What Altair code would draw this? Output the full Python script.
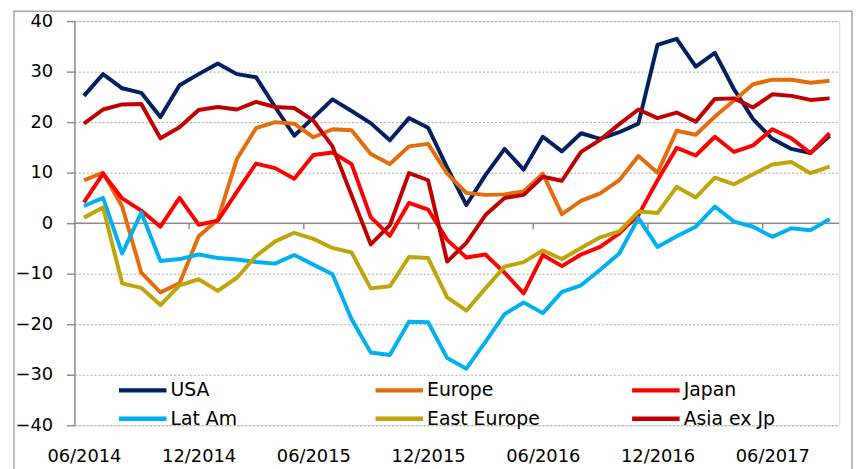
import altair as alt
import pandas as pd

series_names = ["USA", "Europe", "Japan", "Lat Am", "East Europe", "Asia ex Jp"]
series_colors = ["#002060", "#E46C0A", "#FF0000", "#00B0F0", "#BFA40A", "#C00000"]
# legend is laid out column by column: USA/Lat Am, Europe/East Europe, Japan/Asia ex Jp
legend_order = ["USA", "Lat Am", "Europe", "East Europe", "Japan", "Asia ex Jp"]

tick_labels = ["06/2014", "12/2014", "06/2015", "12/2015", "06/2016", "12/2016", "06/2017"]

usa = [25.2, 29.5, 26.7, 25.8, 21.0, 27.3, 29.5, 31.6, 29.5, 28.9,
       23.0, 17.3, 20.9, 24.5, 22.2, 19.8, 16.4, 20.8, 18.9, 11.0,
       3.6, 9.5, 14.7, 10.6, 17.1, 14.2, 17.8, 16.7, 18.0, 19.7,
       35.3, 36.5, 31.0, 33.7, 26.5, 20.6, 16.7, 14.7, 13.9, 17.3]
europe = [8.5, 10.0, 3.3, -9.8, -13.7, -11.9, -2.6, 0.7, 12.7, 18.8,
          20.0, 19.7, 17.0, 18.6, 18.4, 13.7, 11.7, 15.2, 15.7, 9.8,
          6.0, 5.6, 5.7, 6.3, 9.8, 1.8, 4.4, 5.9, 8.5, 13.3,
          10.0, 18.3, 17.5, 21.1, 24.3, 27.5, 28.4, 28.4, 27.8, 28.2]
japan = [4.1, 9.8, 4.9, 2.5, -0.7, 5.0, -0.3, 0.5, 6.2, 11.8,
         10.9, 8.8, 13.5, 14.0, 11.7, 1.2, -2.5, 4.0, 2.7, -3.3,
         -6.8, -6.2, -9.8, -13.9, -6.3, -8.5, -6.2, -4.7, -2.0, 1.6,
         8.5, 14.9, 13.4, 17.1, 14.1, 15.4, 18.6, 16.8, 13.9, 17.8]
lat_am = [3.4, 5.0, -6.0, 2.1, -7.5, -7.1, -6.2, -6.9, -7.2, -7.7,
          -8.0, -6.3, -8.2, -10.1, -19.0, -25.6, -26.1, -19.5, -19.6, -26.7,
          -28.8, -23.5, -18.0, -15.7, -17.8, -13.6, -12.3, -9.2, -6.0, 1.0,
          -4.7, -2.6, -0.7, 3.3, 0.3, -0.7, -2.7, -1.0, -1.4, 0.8]
east_europe = [1.1, 3.1, -11.9, -12.8, -16.2, -12.3, -11.1, -13.4, -10.8, -6.5,
               -3.6, -1.9, -3.1, -4.9, -5.8, -12.9, -12.5, -6.7, -6.9, -14.7,
               -17.3, -12.9, -8.6, -7.7, -5.4, -7.1, -4.9, -2.8, -1.6, 2.3,
               2.0, 7.2, 5.1, 9.0, 7.7, 9.7, 11.6, 12.1, 9.9, 11.2]
asia_ex_jp = [19.7, 22.5, 23.5, 23.6, 16.8, 19.0, 22.4, 23.0, 22.5, 24.0,
              23.0, 22.8, 20.3, 15.2, 5.5, -4.2, -0.4, 9.9, 8.5, -7.6,
              -3.9, 1.6, 5.0, 5.6, 9.2, 8.4, 14.1, 16.5, 19.6, 22.5,
              20.8, 21.9, 20.1, 24.6, 24.7, 22.9, 25.5, 25.2, 24.4, 24.7]

all_series = [usa, europe, japan, lat_am, east_europe, asia_ex_jp]

rows = []
for name, vals in zip(series_names, all_series):
    for i, v in enumerate(vals):
        rows.append({"month": i, "series": name, "value": v})
df = pd.DataFrame(rows)

color_of = dict(zip(series_names, series_colors))
legend_colors = [color_of[n] for n in legend_order]

n_months = len(usa)
label_months = [6 * k for k in range(len(tick_labels))]
boundary_ticks = [6 * k - 0.5 for k in range(1, len(tick_labels))]

W, H = 772, 408
FONT = "DejaVu Sans"
GRAY = "#8c8c8c"

x_scale = alt.Scale(domain=[-0.5, n_months - 0.5], nice=False, zero=False)
y_scale = alt.Scale(domain=[-40, 40], nice=False)

label_js = "[" + ",".join("'" + t + "'" for t in tick_labels) + "]"

lines = alt.Chart(df).mark_line(strokeWidth=4, strokeJoin="round").encode(
    x=alt.X("month:Q", scale=x_scale,
            axis=alt.Axis(values=label_months, labelExpr=label_js + "[round(datum.value/6)]",
                          domain=False, ticks=False, grid=False, title=None,
                          labelFont=FONT, labelFontSize=18, labelColor="#000000",
                          labelPadding=23, labelBaseline="top")),
    y=alt.Y("value:Q", scale=y_scale,
            axis=alt.Axis(values=list(range(-40, 41, 10)), title=None,
                          domain=True, domainColor=GRAY, domainWidth=1.5,
                          ticks=True, tickSize=8, tickColor=GRAY, tickWidth=1.5,
                          grid=True, gridColor="#a6a6a6", gridDash=[2, 2], gridWidth=1,
                          labelFont=FONT, labelFontSize=18, labelColor="#000000",
                          labelPadding=14)),
    color=alt.Color("series:N",
                    scale=alt.Scale(domain=legend_order, range=legend_colors),
                    legend=alt.Legend(orient="none", legendX=54.5, legendY=358,
                                      title=None, columns=3, gridAlign="all",
                                      columnPadding=83, rowPadding=4,
                                      symbolType="M-2,0H2", symbolSize=576,
                                      symbolStrokeWidth=4.5, labelOffset=13.5,
                                      labelFont=FONT, labelFontSize=19,
                                      labelColor="#000000", labelLimit=300,
                                      padding=0)),
    order=alt.Order("month:Q"),
)

zero_df = pd.DataFrame({"x0": [-0.5], "x1": [n_months - 0.5]})
zero_line = alt.Chart(zero_df).mark_rule(color=GRAY, strokeWidth=1.5).encode(
    x=alt.X("x0:Q", scale=x_scale), x2="x1:Q", y=alt.datum(0)
)

tick_df = pd.DataFrame({"t": boundary_ticks})
zero_ticks = alt.Chart(tick_df).mark_rule(color=GRAY, strokeWidth=1.5).encode(
    x=alt.X("t:Q", scale=x_scale), y=alt.datum(0), y2=alt.datum(-1.2)
)

frame = alt.Chart(pd.DataFrame({"a": [0]})).mark_rect(
    filled=False, stroke="#a6a6a6", strokeWidth=1.5
).encode(
    x=alt.value(-61), x2=alt.value(785), y=alt.value(-10), y2=alt.value(480)
)

chart = alt.layer(frame, zero_line, zero_ticks, lines).properties(
    width=W, height=H,
    autosize=alt.AutoSizeParams(type="none"),
    padding={"left": 67, "top": 11, "right": 17, "bottom": 50},
).configure_view(stroke=None).configure(background="white")

chart.save("out.html", embed_options={"renderer": "svg", "actions": False})
